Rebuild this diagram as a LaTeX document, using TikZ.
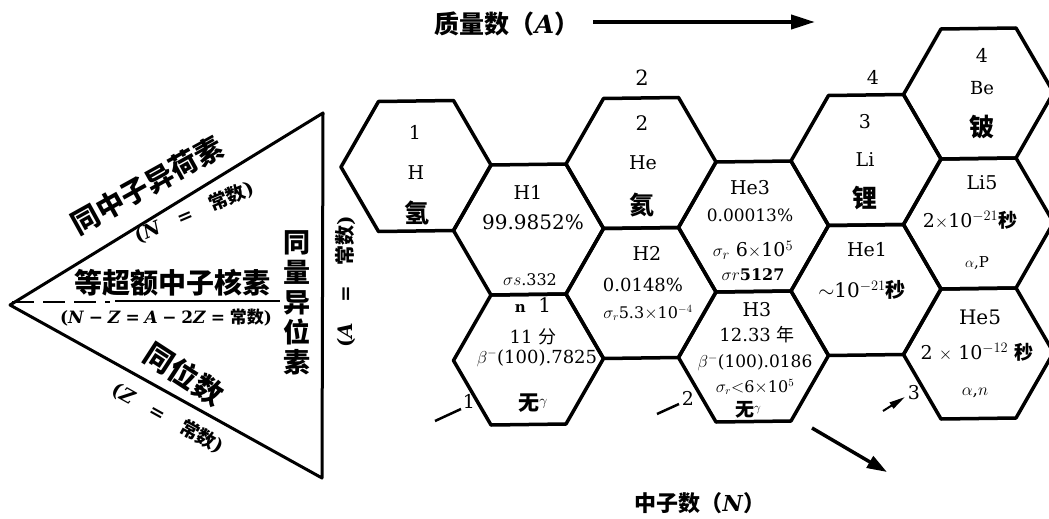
\documentclass[tikz,border=0pt]{standalone}
\usepackage{fontspec}
\setmainfont{DejaVu Serif}
\newfontfamily\cjkf{Noto Sans CJK SC}
\usetikzlibrary{arrows.meta,calc}
\newcommand\zh[1]{{\cjkf #1}}
\newcommand\fs[1]{\fontsize{#1}{#1}\selectfont}
\newcommand\hexa[2]{\draw[hex] ({#1+75},{#2}) -- ({#1+37.5},{#2+65}) -- ({#1-37.5},{#2+65}) -- ({#1-75},{#2}) -- ({#1-37.5},{#2-65}) -- ({#1+37.5},{#2-65}) -- cycle;}
\newcommand\nzform{\bfseries(\textit{N}\;−\;\textit{Z}\;=\;\textit{A}\;−\;2\textit{Z}\;=\;\zh{常数})}
\begin{document}
\begin{tikzpicture}[x=1pt,y=-1pt,
  hex/.style={line width=3.5pt, line join=round},
  edge/.style={line width=3pt, line join=round},
  t/.style={inner sep=0pt, anchor=center},
  tick/.style={line width=2.5pt},
  bigarrow/.style={line width=4pt, -{Triangle[length=24pt,width=14pt]}},
]
\useasboundingbox (0,0) rectangle (1049,519);
\fill[white] (0,0) rectangle (1049,519);
% ---------- honeycomb ----------
\begin{scope}[shift={(416,166)}, yslant=0.01333]
  \hexa{0}{0}
  \hexa{112.5}{65}   \hexa{112.5}{195}
  \hexa{225}{0}      \hexa{225}{130}
  \hexa{337.5}{65}   \hexa{337.5}{195}
  \hexa{450}{0}      \hexa{450}{130}
  \hexa{562.5}{-65}  \hexa{562.5}{65} \hexa{562.5}{195}
\end{scope}
% ---------- hex texts ----------
% H
\node[t] (h1) at (415,132) {\fs{19}1};
\node[t] (h2) at (416,173) {\fs{19}H};
\node[t] (h3) at (417,213) {\fs{25}\bfseries\zh{氢}};
% H1
\node[t] (a1) at (528,192) {\fs{19}H1};
\node[t] (a2) at (533,222) {\fs{20}99.9852\%};
\node[t] (a3) at (530,280) {\fs{16}$\sigma s$.332};
% n
\node[t] (b1) at (533,305) {\fs{20}{\fs{15}$\mathbf{n}$}\ \ 1};
\node[t] (b2) at (533,337) {\fs{18}11 \zh{分}};
\node[t] (b3) at (537,358) {\fs{18}$\beta^-$(100).7825};
\node[t] (b4) at (533,403) {\fs{21}\bfseries\zh{无}\raisebox{5pt}{\fs{14}$\gamma$}};
% He
\node[t] (c0) at (642,78) {\fs{21}2};
\node[t] (c1) at (642,123) {\fs{20}2};
\node[t] (c2) at (643,163) {\fs{19}He};
\node[t] (c3) at (642,205) {\fs{25}\bfseries\zh{氦}};
% H2
\node[t] (d1) at (647,253) {\fs{19}H2};
\node[t] (d2) at (643,285) {\fs{18}0.0148\%};
\node[t] (d3) at (648,313) {\fs{16}$\sigma_r$5.3$\times$10$^{-4}$};
% He3
\node[t] (e1) at (750,188) {\fs{19}He3};
\node[t] (e2) at (750,215) {\fs{17}0.00013\%};
\node[t] (e3) at (753,250) {\fs{19}$\sigma_r$ 6$\times$10$^5$};
\node[t] (e4) at (753,275) {\fs{16}\bfseries$\sigma r$5127};
% H3
\node[t] (f1) at (757,310) {\fs{19}H3};
\node[t] (f2) at (757,335) {\fs{18}12.33 \zh{年}};
\node[t] (f3) at (755,363) {\fs{17}$\beta^-$(100).0186};
\node[t] (f4) at (755,387) {\fs{16}$\sigma_r{<}$6$\times$10$^5$};
\node[t] (f5) at (748,410) {\fs{19}\bfseries\zh{无}\raisebox{5pt}{\fs{13}$\gamma$}};
% Li
\node[t] (g0) at (873,77) {\fs{19}4};
\node[t] (g1) at (865,122) {\fs{19}3};
\node[t] (g2) at (865,160) {\fs{19}Li};
\node[t] (g3) at (865,198) {\fs{25}\bfseries\zh{锂}};
% He1
\node[t] (i1) at (867,250) {\fs{19}He1};
\node[t] (i2) at (862,290) {\fs{20}$\sim$10$^{-21}$\zh{\bfseries 秒}};
% Be
\node[t] (j1) at (982,55) {\fs{19}4};
\node[t] (j2) at (982,88) {\fs{18}Be};
\node[t] (j3) at (982,127) {\fs{25}\bfseries\zh{铍}};
% Li5
\node[t] (k1) at (982,183) {\fs{19}Li5};
\node[t] (k2) at (970,220) {\fs{19}2$\times$10$^{-21}$\zh{\bfseries 秒}};
\node[t] (k3) at (977,263) {\fs{15}$\alpha$,P};
% He5
\node[t] (l1) at (980,317) {\fs{20}He5};
\node[t] (l2) at (977,352) {\fs{19}2 $\times$ 10$^{-12}$ \zh{\bfseries 秒}};
\node[t] (l3) at (975,393) {\fs{17}$\alpha$,$n$};
% ---------- neutron number ticks ----------
\node[t] (n1) at (469,401) {\fs{19}1};
\coordinate (n1s) at (435,421);
\draw[tick] (n1s) -- ([shift={(-8,8)}]n1.center);
\node[t] (n2) at (688,398) {\fs{19}2};
\coordinate (n2s) at (657,414);
\draw[tick] (n2s) -- ([shift={(-9,6)}]n2.center);
\node[t] (n3) at (914,393) {\fs{19}3};
\coordinate (n3s) at (883,411);
\draw[line width=2pt, -{Triangle[length=16pt,width=7pt]}] (n3s) -- ([shift={(-9,4)}]n3.center);
% ---------- axis labels ----------
\node[t] (qa) at (507,24) {\fs{25}\bfseries\zh{质量数（}\textit{A}\zh{）}};
\coordinate (qa0) at (593,22);
\coordinate (qa1) at (815,22);
\draw[bigarrow] (qa0) -- (qa1);
\node[t] (zn) at (700,503) {\fs{22}\bfseries\zh{中子数（}\textit{N}\zh{）}};
\coordinate (zn0) at (812,428);
\coordinate (zn1) at (887,472);
\draw[line width=3.5pt, -{Triangle[length=20pt,width=13pt]}] (zn0) -- (zn1);
% ---------- triangle ----------
\coordinate (tl) at (10,305);
\coordinate (tt) at (323,113);
\coordinate (tb) at (322,478);
\draw[edge] (tl) -- (tt) -- (tb) -- cycle;
\node[t, rotate=29] (s1) at (147,185) {\fs{28}\bfseries\zh{同中子异荷素}};
\node[t, rotate=23] (s2) at (194,212) {\fs{19}\bfseries(\textit{N}\quad=\quad\zh{常数})};
\node[t] (s3) at (172,283) {\fs{28}\bfseries\zh{等超额中子核素}};
\coordinate (u0) at (12,302);
\coordinate (u1) at (110,302);
\coordinate (u2) at (115,301);
\coordinate (u3) at (280,301);
\draw[line width=2.5pt, dash pattern=on 22pt off 9pt] (u0) -- (u1);
\draw[line width=2.5pt] (u2) -- (u3);
\node[t] (s4) at (166,318) {\fs{17}\nzform};
\node[t, rotate=-33] (s5) at (184,374) {\fs{29}\bfseries\zh{同位数}};
\node[t, rotate=-29] (s6) at (168,418) {\fs{19}\bfseries(\textit{Z}\quad=\quad\zh{常数})};
\node[t, align=center, font=\fontsize{27}{30}\selectfont\bfseries\cjkf] (s7) at (297,303) {同\\量\\异\\位\\素};
\node[t, rotate=90] (s8) at (345,282) {\fs{20}\bfseries(\textit{A}\quad=\quad\zh{常数})};
\end{tikzpicture}
\end{document}
